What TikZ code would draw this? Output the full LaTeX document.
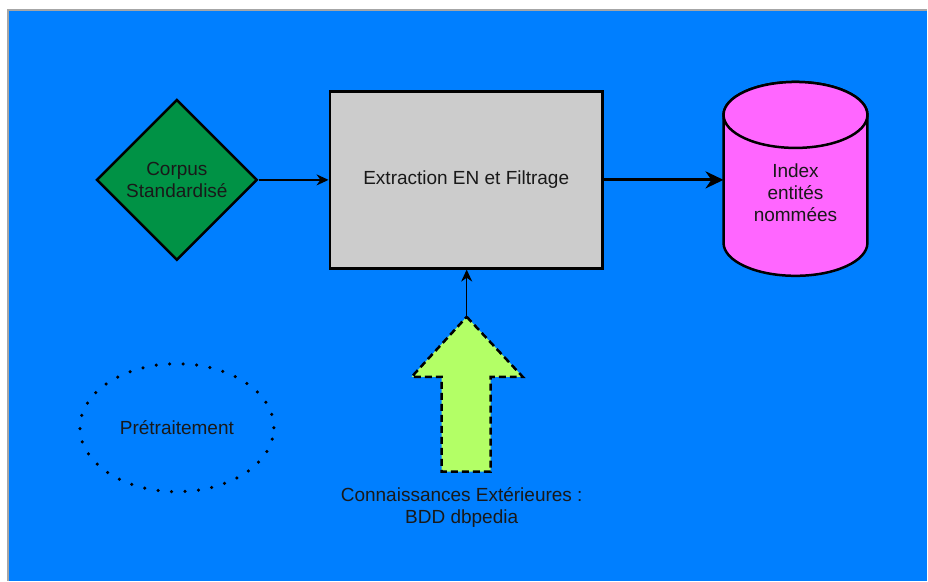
\documentclass[tikz,border=0pt]{standalone}
\usepackage{fontspec}
\setmainfont{Liberation Sans}
\usepackage{tikz}
\usetikzlibrary{arrows.meta, positioning, shapes.geometric}
\tikzset{>={Stealth[length=12pt,width=11pt]}}
\definecolor{bgblue}{RGB}{0,127,255}
\definecolor{corpusgreen}{RGB}{0,146,69}
\definecolor{boxgray}{RGB}{204,204,204}
\definecolor{idxpink}{RGB}{255,102,255}
\definecolor{kbgreen}{RGB}{179,255,102}

\begin{document}
\begin{tikzpicture}[x=1pt,y=-1pt,
    every node/.style={font=\fontsize{19}{22}\selectfont, align=center, text=black!90},
    corpus/.style={diamond, draw, line width=2.5pt, fill=corpusgreen, aspect=1,
      minimum width=161pt, minimum height=161pt, inner sep=0pt},
    procbox/.style={rectangle, draw, line width=2.5pt, fill=boxgray,
      minimum width=273pt, minimum height=177pt},
    store/.style={draw, line width=2.5pt, fill=idxpink},
    kbarrow/.style={draw, line width=2.5pt, dash pattern=on 7pt off 4pt, fill=kbgreen},
    phase/.style={ellipse, draw, line width=3.5pt, line cap=round,
      dash pattern=on 0pt off 13.5pt, minimum width=194pt, minimum height=128pt}]
  % frame
  \fill[white] (0,0) rectangle (928,581);
  \fill[bgblue] (8,10) rectangle (928,581);
  \draw[gray!70, line width=1.2pt] (8,581) -- (8,10) -- (928,10);

  \node[corpus] (corpus) at (177,180) {Corpus\\Standardisé};
  \node[procbox] (extract) at (466.5,180) {Extraction EN et Filtrage};
  % index cylinder
  \draw[store] (724,115) -- (724,243) arc[start angle=180, end angle=0, x radius=72, y radius=33]
    -- (868,115) arc[start angle=0, end angle=-180, x radius=72, y radius=33] -- cycle;
  \draw[store] (796,115) ellipse[x radius=72, y radius=33];
  \coordinate (idxin) at (724,180);
  \node (index) at (796,193) {Index\\entités\\nommées};
  % big arrow
  \draw[kbarrow] (467,317) coordinate (kbtip) -- (523,377) -- (491,377) -- (491,472)
    -- (442,472) -- (442,377) -- (412,377) -- cycle;
  \node (kbtext) at (462,508) {Connaissances Extérieures :\\BDD dbpedia};
  \node[phase] (pretrait) at (177,428) {Prétraitement};

  \draw[->, line width=1.5pt] (corpus) -- (extract);
  \draw[-{Stealth[length=18pt,width=17pt]}, line width=3pt] (extract.east) -- (idxin);
  \draw[->, line width=1.5pt] (kbtip) -- (kbtip |- extract.south);
\end{tikzpicture}
\end{document}
